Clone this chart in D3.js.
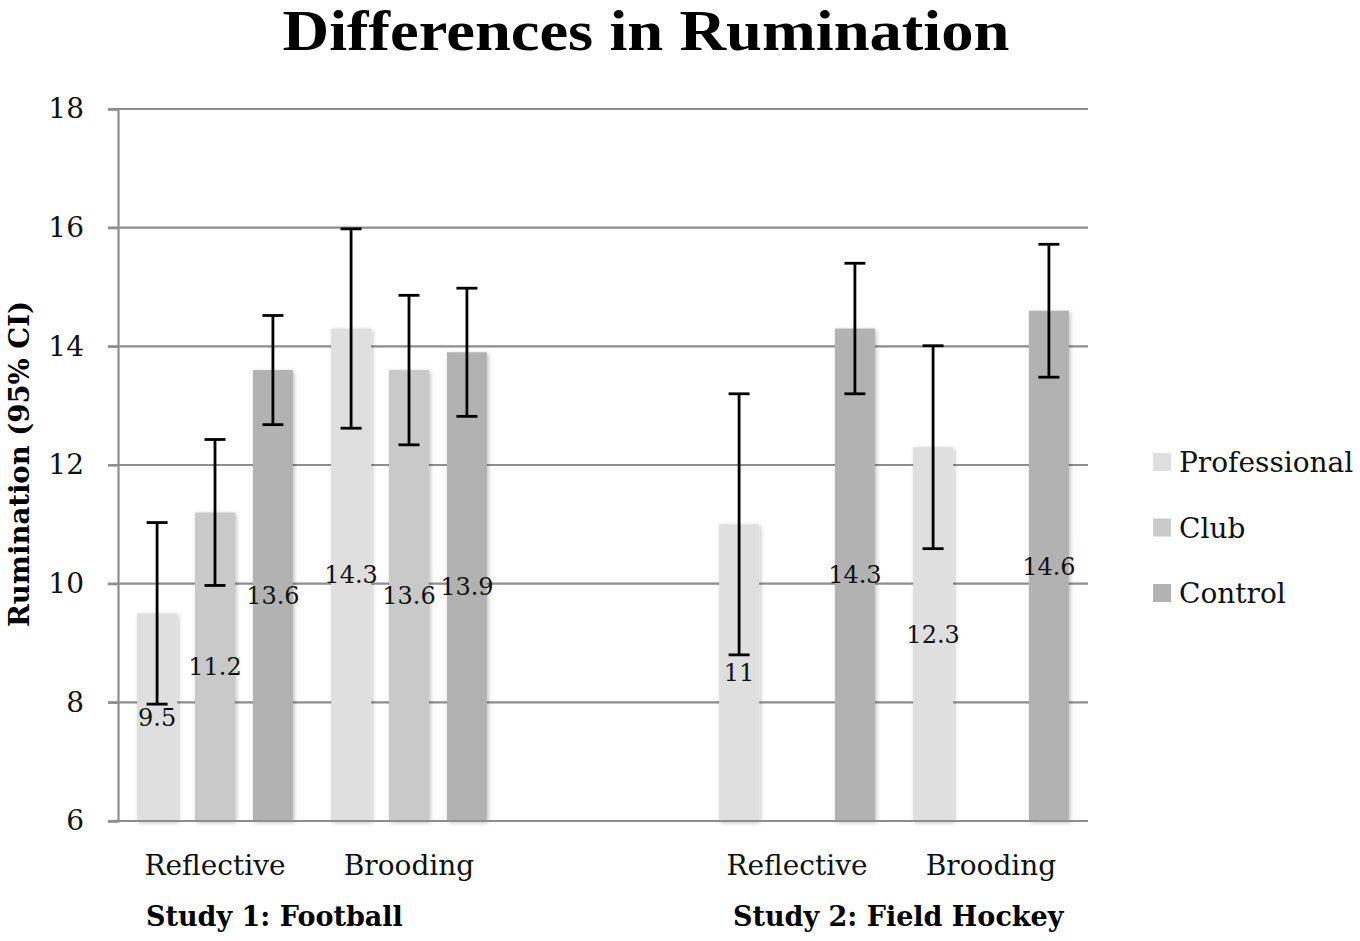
<!DOCTYPE html>
<html>
<head>
<meta charset="utf-8">
<script src="https://cdn.jsdelivr.net/npm/d3@7"></script>
<style>
  html, body { margin: 0; padding: 0; background: #fff; }
  svg { display: block; }
</style>
</head>
<body>
<svg id="chart" width="1360" height="941"></svg>
<script>
// ---- data ----
const categoryKeys = ["s1-reflective", "s1-brooding", "gap", "s2-reflective", "s2-brooding"];
const categoryLabels = ["Reflective", "Brooding", "", "Reflective", "Brooding"];
const seriesNames = ["Professional", "Club", "Control"];
const professional = [9.5, 14.3, null, 11, 12.3];
const club = [11.2, 13.6, null, null, null];
const control = [13.6, 13.9, null, 14.3, 14.6];
const professionalCI = [1.53, 1.68, null, 2.2, 1.71];
const clubCI = [1.23, 1.26, null, null, null];
const controlCI = [0.92, 1.08, null, 1.1, 1.12];
const yTicks = [6, 8, 10, 12, 14, 16, 18];
const studyLabels = ["Study 1: Football", "Study 2: Field Hockey"];
const studyAnchors = ["s1-reflective", "s2-reflective"];
const titleText = "Differences in Rumination";
const yTitle = "Rumination (95% CI)";

const seriesValues = [professional, club, control];
const seriesCI = [professionalCI, clubCI, controlCI];
const colors = { Professional: "#dfdfdf", Club: "#c9c9c9", Control: "#b2b2b2" };

const serif = "'DejaVu Serif', 'Liberation Serif', serif";
const titleFont = "'Liberation Serif', 'DejaVu Serif', serif";

// ---- layout ----
const plotLeft = 118, plotRight = 1088, plotTop = 109, plotBottom = 821;
const svg = d3.select("#chart");

const x0 = d3.scaleBand().domain(categoryKeys).range([plotLeft, plotRight]).padding(0);
const x1 = d3.scaleBand().domain(seriesNames).range([0, x0.bandwidth()])
  .paddingInner(0.31).paddingOuter(0.33);
const y = d3.scaleLinear().domain([6, 18]).range([plotBottom, plotTop]);

const defs = svg.append("defs");
const f = defs.append("filter").attr("id", "shadow")
  .attr("x", "-30%").attr("y", "-10%").attr("width", "160%").attr("height", "120%");
f.append("feDropShadow").attr("dx", 1.5).attr("dy", 1.5).attr("stdDeviation", 2)
  .attr("flood-color", "#000").attr("flood-opacity", 0.25);

// gridlines + y axis
const yAxis = d3.axisLeft(y).tickValues(yTicks).tickSize(10).tickPadding(24).tickFormat(d3.format("d"));
const gy = svg.append("g").attr("transform", `translate(${plotLeft},0)`).call(yAxis);
gy.select(".domain").attr("stroke", "#8e8e8e").attr("stroke-width", 2.2);
gy.selectAll(".tick line").attr("stroke", "#8e8e8e").attr("stroke-width", 2.2);
gy.selectAll(".tick text").attr("font-family", serif).attr("font-size", 28).attr("fill", "#111");

svg.append("g").selectAll("line").data(yTicks).join("line")
  .attr("x1", plotLeft - 10).attr("x2", plotRight)
  .attr("y1", d => y(d)).attr("y2", d => y(d))
  .attr("stroke", "#8e8e8e").attr("stroke-width", 2.2);

// bars
const barData = [];
categoryKeys.forEach((k, i) => {
  seriesNames.forEach((s, j) => {
    const v = seriesValues[j][i];
    if (v != null) barData.push({ key: k, series: s, value: v, ci: seriesCI[j][i] });
  });
});

svg.append("g").selectAll("rect").data(barData).join("rect")
  .attr("x", d => x0(d.key) + x1(d.series))
  .attr("width", x1.bandwidth())
  .attr("y", d => y(d.value))
  .attr("height", d => y(6) - y(d.value))
  .attr("fill", d => colors[d.series])
  .attr("filter", "url(#shadow)");

// bottom axis line
svg.append("line").attr("x1", plotLeft - 10).attr("x2", plotRight)
  .attr("y1", y(6)).attr("y2", y(6)).attr("stroke", "#8e8e8e").attr("stroke-width", 2.2);

// data labels
svg.append("g").selectAll("text").data(barData).join("text")
  .attr("x", d => x0(d.key) + x1(d.series) + x1.bandwidth() / 2)
  .attr("y", d => (y(d.value) + y(6)) / 2)
  .attr("dy", "0.36em")
  .attr("text-anchor", "middle")
  .attr("font-family", serif).attr("font-size", 24).attr("fill", "#111")
  .text(d => String(d.value));

// error bars
const eb = svg.append("g").attr("stroke", "#000").attr("stroke-width", 2.8).attr("fill", "none");
barData.forEach(d => {
  const cx = x0(d.key) + x1(d.series) + x1.bandwidth() / 2;
  const y1 = y(d.value + d.ci), y2 = y(d.value - d.ci);
  eb.append("line").attr("x1", cx).attr("x2", cx).attr("y1", y1).attr("y2", y2);
  eb.append("line").attr("x1", cx - 10.5).attr("x2", cx + 10.5).attr("y1", y1).attr("y2", y1);
  eb.append("line").attr("x1", cx - 10.5).attr("x2", cx + 10.5).attr("y1", y2).attr("y2", y2);
});

// x category labels
svg.append("g").selectAll("text").data(categoryKeys.map((k, i) => ({ k, label: categoryLabels[i] })))
  .join("text")
  .attr("x", d => x0(d.k) + x0.bandwidth() / 2)
  .attr("y", 875)
  .attr("text-anchor", "middle")
  .attr("font-family", serif).attr("font-size", 28).attr("fill", "#111")
  .text(d => d.label);

// study labels
svg.append("g").selectAll("text").data(studyLabels).join("text")
  .attr("x", (d, i) => x0(studyAnchors[i]) + (i === 0 ? 28 : 33))
  .attr("y", 926)
  .attr("font-family", serif).attr("font-weight", "bold").attr("font-size", 27).attr("fill", "#000")
  .text(d => d);

// title
svg.append("text").attr("x", 646).attr("y", 50)
  .attr("text-anchor", "middle")
  .attr("font-family", titleFont).attr("font-weight", "bold").attr("font-size", 56)
  .attr("textLength", 727).attr("lengthAdjust", "spacingAndGlyphs")
  .attr("fill", "#000")
  .text(titleText);

// y title
svg.append("text")
  .attr("transform", `translate(29,464) rotate(-90)`)
  .attr("text-anchor", "middle")
  .attr("font-family", serif).attr("font-weight", "bold").attr("font-size", 27.5)
  .attr("fill", "#000")
  .text(yTitle);

// legend
const legend = svg.append("g").selectAll("g").data(seriesNames).join("g")
  .attr("transform", (d, i) => `translate(1153,${462 + i * 65.5})`);
legend.append("rect").attr("x", 0).attr("y", -9).attr("width", 18).attr("height", 18)
  .attr("fill", d => colors[d]);
legend.append("text").attr("x", 26).attr("y", 0).attr("dy", "0.36em")
  .attr("font-family", serif).attr("font-size", 28).attr("fill", "#111")
  .text(d => d);
</script>
</body>
</html>
